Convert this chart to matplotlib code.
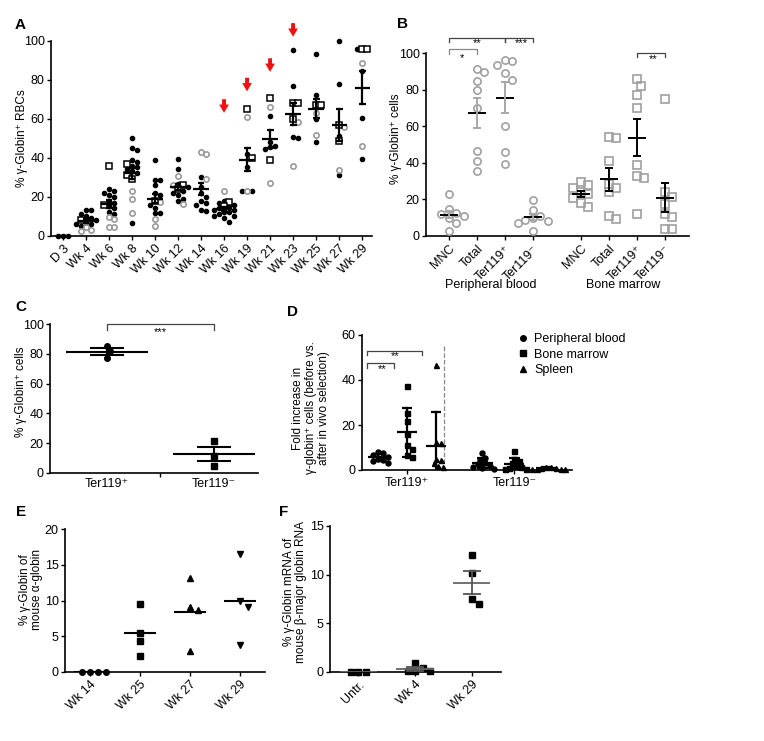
import matplotlib
matplotlib.use('Agg')
import matplotlib.pyplot as plt
from matplotlib.lines import Line2D
import numpy as np

plt.rcParams['font.family'] = ['Liberation Sans', 'DejaVu Sans']
plt.rcParams['axes.linewidth'] = 1.2
plt.rcParams['xtick.major.width'] = 1.0
plt.rcParams['ytick.major.width'] = 1.0
plt.rcParams['xtick.major.size'] = 3
plt.rcParams['ytick.major.size'] = 3
plt.rcParams['xtick.major.pad'] = 2
plt.rcParams['ytick.major.pad'] = 1.5
plt.rcParams['xtick.labelsize'] = 9
plt.rcParams['ytick.labelsize'] = 9

W, H = 764, 741

# ---------------- data ----------------
# A: % gamma-globin+ RBCs over time (black dots, gray circles, open squares)
a_labels = ['D 3', 'Wk 4', 'Wk 6', 'Wk 8', 'Wk 10', 'Wk 12', 'Wk 14',
            'Wk 16', 'Wk 19', 'Wk 21', 'Wk 23', 'Wk 25', 'Wk 27', 'Wk 29']
a_black = [
    [0, 0, 0],
    [13, 13, 11, 10, 9, 8, 7, 6, 6, 5],
    [24, 23, 22, 21, 20, 18, 17, 15, 14, 12, 11],
    [50, 45, 44, 39, 38, 36, 35, 34, 33, 32, 6.5],
    [39, 28.5, 28.5, 26, 22, 21, 16, 14, 11.5, 11.5],
    [39.5, 34, 26.5, 25, 23, 22, 21, 19, 18],
    [30, 25, 22, 20, 18, 17, 16, 13, 12.5],
    [18, 17, 16, 15, 14, 13, 13, 12, 12, 11, 10, 10, 9, 7],
    [42, 35, 23, 23],
    [61.5, 48, 46, 45.5, 44.5],
    [95, 77, 50.5, 50],
    [93, 72, 60, 48],
    [100, 78, 51, 31],
    [96, 84.5, 60.5, 39.5],
]
a_gray = [
    [],
    [4.5, 3, 2.5],
    [9.5, 8.5, 4.5, 4.5],
    [23, 19, 11.5],
    [17.5, 8.5, 5],
    [30.5, 26, 16.5],
    [43, 42, 29],
    [23],
    [61, 23],
    [66, 27],
    [58.5, 35.5],
    [63, 51.5],
    [55.5, 33.5],
    [88.5, 46],
]
a_square = [
    [],
    [8],
    [36, 16],
    [37, 31, 29],
    [18],
    [26, 24],
    [],
    [17.5, 15],
    [65, 40],
    [70.5, 39],
    [68, 68, 60],
    [67, 67],
    [57, 48.5],
    [96, 96],
]
arrow_labels = ['Wk 16', 'Wk 19', 'Wk 21', 'Wk 23']
arrow_tips = [63, 74, 84, 102]

# B: peripheral blood (circles) and bone marrow (squares)
b_labels = ['MNC', 'Total', 'Ter119⁺', 'Ter119⁻']
b_pb = [
    [23, 15, 12.5, 12, 11, 10, 7, 3],
    [91.5, 89.5, 85, 80, 70, 46.5, 41, 35.5],
    [96.5, 96, 93.5, 89, 85.5, 60, 46, 39.5],
    [19.5, 14.5, 11, 10, 9, 8, 7, 3],
]
b_bm = [
    [29.5, 28, 26, 24, 23, 21, 18, 16],
    [54, 53.5, 41, 28.5, 26, 24, 11, 9.5],
    [86, 82, 77, 70, 39, 33, 32, 12],
    [75, 24, 21.5, 17.5, 12, 10.5, 4, 4],
]

# C
c_labels = ['Ter119⁺', 'Ter119⁻']
c_pos = [85.5, 82, 77]
c_neg = [21.5, 11.5, 4.5]

# D: fold increase, mean +/- SD
d_groups = ['Peripheral blood', 'Bone marrow', 'Spleen']
d_markers = ['o', 's', '^']
d_labels = ['Ter119⁺', 'Ter119⁻']
d_pos = [
    [8, 7.5, 6.5, 6, 5, 4.5, 4, 3],
    [37.5, 25.5, 22, 16, 11, 9.5, 6.5, 6],
    [46.5, 12.5, 12, 5, 4.5, 3, 2, 1.5],
]
d_neg = [
    [7.5, 5.5, 4.5, 3, 2.5, 2, 1.5, 1, 0.5],
    [8.5, 5, 4, 3, 2, 1.5, 1, 0.5, 0.5],
    [1.5, 1.2, 1, 0.8, 0.6, 0.5, 0.5, 0.3],
]

# E
e_labels = ['Wk 14', 'Wk 25', 'Wk 27', 'Wk 29']
e_markers = ['o', 's', '^', 'v']
e_vals = [
    [0, 0, 0, 0],
    [9.5, 5.5, 4.3, 2.2],
    [13.1, 9.1, 8.7, 2.9],
    [16.6, 10, 9.1, 3.8],
]

# F
f_labels = ['Untr.', 'Wk 4', 'Wk 29']
f_vals = [
    [0, 0, 0],
    [0.9, 0.4, 0.05, 0.05, 0.05],
    [12, 10.2, 7.5, 7],
]

# ---------------- helpers ----------------
fig = plt.figure(figsize=(W / 100, H / 100), dpi=100)


def add_ax(l, r, t, b, xlim, ylim):
    ax = fig.add_axes([l / W, 1 - b / H, (r - l) / W, (b - t) / H])
    ax.set_xlim(*xlim)
    ax.set_ylim(*ylim)
    ax.spines[['top', 'right']].set_visible(False)
    return ax


def swarm(ax, vals, d):
    # horizontal offsets so markers of diameter d (px) do not overlap
    sx, sy = ax.transData.transform((1, 1)) - ax.transData.transform((0, 0))
    steps = [0] + [s * k * d / 2 for k in range(1, 60) for s in (1, -1)]
    placed, offs = [], []
    for v in vals:
        for c in steps:
            if all((c - p) ** 2 + ((v - q) * sy) ** 2 >= d * d for p, q in placed):
                break
        placed.append((c, v))
        offs.append(c / sx)
    return np.array(offs)


def mean_bar(ax, x, vals, half, cap, mcol='k', ecol='k', lw=1.5, sd=False, err=True):
    m = np.mean(vals)
    ax.plot([x - half, x + half], [m, m], color=mcol, lw=lw, zorder=4,
            solid_capstyle='butt')
    if not err:
        return
    e = np.std(vals, ddof=1)
    if not sd:
        e = e / np.sqrt(len(vals))
    ax.plot([x, x], [m - e, m + e], color=ecol, lw=lw, zorder=4)
    for yy in (m - e, m + e):
        ax.plot([x - cap, x + cap], [yy, yy], color=ecol, lw=lw, zorder=4,
                solid_capstyle='butt')


def bracket(ax, x0, x1, y, leg, text, tx, ty, color='#444444'):
    ax.plot([x0, x0, x1, x1], [y - leg, y, y, y - leg], color=color, lw=0.9,
            clip_on=False)
    ax.text(tx, ty, text, ha='center', va='center', fontsize=8, clip_on=False)


def ftext(x, y, s, **kw):
    fig.text(x / W, 1 - y / H, s, **kw)


# ---------------- panel A ----------------
axA = add_ax(51, 372, 40.7, 235.7, (-0.52, 13.43), (0, 100))
for i in range(len(a_labels)):
    vals = a_black[i] + a_gray[i] + a_square[i]
    kind = [0] * len(a_black[i]) + [1] * len(a_gray[i]) + [2] * len(a_square[i])
    order = np.argsort(vals, kind='stable')[::-1]
    v = np.array(vals, float)[order]
    k = np.array(kind)[order]
    x = i + swarm(axA, v, 4.8)
    axA.plot(x[k == 0], v[k == 0], 'o', color='k', ms=3, ls='none',
             clip_on=False, zorder=3)
    axA.plot(x[k == 1], v[k == 1], 'o', mfc='none', mec='#9a9a9a', mew=1.2,
             ms=3.8, ls='none', clip_on=False, zorder=3)
    axA.plot(x[k == 2], v[k == 2], 's', mfc='white', mec='k', mew=1.1,
             ms=4, ls='none', clip_on=False, zorder=3)
    mean_bar(axA, i, vals, 0.33, 0.15, lw=1.6)

for lab, tip in zip(arrow_labels, arrow_tips):
    xi = a_labels.index(lab)
    axA.annotate('', xy=(xi, tip), xytext=(xi, tip + 7), annotation_clip=False,
                 arrowprops=dict(arrowstyle='simple,head_length=0.6,head_width=0.7,tail_width=0.28',
                                 color='#ee1111', lw=0, shrinkA=0, shrinkB=0))

axA.set_xticks(range(len(a_labels)))
axA.set_xticklabels(a_labels, rotation=45, ha='right', rotation_mode='anchor')
axA.set_yticks(range(0, 101, 20))
ftext(22, 138, '% γ-Globin⁺ RBCs', rotation=90, ha='center', va='center', fontsize=8.5)

# ---------------- panel B ----------------
b_pos = [0, 1, 2, 3, 4.71, 5.71, 6.71, 7.71]
axB = add_ax(426, 689, 53.3, 236, (-0.82, 8.57), (0, 100))
for j in range(4):
    vals = sorted(b_pb[j], reverse=True)
    x = b_pos[j] + swarm(axB, vals, 7.5)
    axB.plot(x, vals, 'o', mfc='none', mec='#a0a0a0', mew=1.2, ms=5.2,
             ls='none', clip_on=False, zorder=3)
    mean_bar(axB, b_pos[j], vals, 0.33, 0.15, mcol='k', ecol='#a8a8a8', lw=1.4)
for j in range(4):
    vals = sorted(b_bm[j], reverse=True)
    x = b_pos[j + 4] + swarm(axB, vals, 7.5)
    axB.plot(x, vals, 's', mfc='none', mec='#a0a0a0', mew=1.2, ms=5.2,
             ls='none', clip_on=False, zorder=3)
    mean_bar(axB, b_pos[j + 4], vals, 0.33, 0.15, lw=1.4)

axB.set_xticks(b_pos)
axB.set_xticklabels(b_labels * 2, rotation=45, ha='right', rotation_mode='anchor')
axB.set_yticks(range(0, 101, 20))
bracket(axB, 0, 1, 102.2, 2.7, '*', 0.45, 97.5, color='#888888')
bracket(axB, 0, 2, 108.4, 2.4, '**', 1.0, 105.4)
bracket(axB, 2, 3, 108.4, 2.4, '***', 2.6, 105.4)
bracket(axB, 6.71, 7.71, 100.2, 2.4, '**', 7.3, 96.6)
ftext(396, 139, '% γ-Globin⁺ cells', rotation=90, ha='center', va='center', fontsize=8.5)
ftext(491, 285, 'Peripheral blood', ha='center', va='center', fontsize=9)
ftext(623, 285, 'Bone marrow', ha='center', va='center', fontsize=9)

# ---------------- panel C ----------------
axC = add_ax(50, 258, 324.3, 472.7, (-0.53, 1.41), (0, 100))
for j, (vals, mk) in enumerate([(c_pos, 'o'), (c_neg, 's')]):
    x = j + swarm(axC, vals, 5.5)
    axC.plot(x, vals, mk, color='k', ms=4, ls='none', clip_on=False, zorder=3)
    mean_bar(axC, j, vals, 0.38, 0.16, lw=1.5)
axC.set_xticks([0, 1])
axC.set_xticklabels(c_labels)
axC.tick_params(axis='x', length=0, pad=4)
axC.set_xticks([0.5], minor=True)
axC.tick_params(axis='x', which='minor', length=3, width=1.0)
axC.set_yticks(range(0, 101, 20))
bracket(axC, 0, 1, 100, 4, '***', 0.5, 95)
ftext(21, 392, '% γ-Globin⁺ cells', rotation=90, ha='center', va='center', fontsize=8.5)

# ---------------- panel D ----------------
d_x_pos = [0, 1, 2]
d_x_neg = [3.6, 4.7, 5.8]
d_sep = 2.28
axD = add_ax(362, 572, 335, 470, (-0.55, 6.69), (0, 60))
for vals_set, xs in ((d_pos, d_x_pos), (d_neg, d_x_neg)):
    for g in range(3):
        vals = sorted(vals_set[g], reverse=True)
        x = xs[g] + swarm(axD, vals, 4.8)
        axD.plot(x, vals, d_markers[g], color='k', ms=3.6, ls='none',
                 clip_on=False, zorder=3)
        mean_bar(axD, xs[g], vals, 0.35, 0.18, lw=1.6, sd=True)
axD.plot([d_sep, d_sep], [0, 55], ls='--', color='#888888', lw=0.9)
axD.set_xticks([d_x_pos[1], d_x_neg[1]])
axD.set_xticklabels(d_labels)
axD.set_yticks(range(0, 61, 20))
bracket(axD, -0.38, 1.52, 53, 2, '**', 0.6, 50.6)
bracket(axD, -0.38, 0.55, 47.4, 2, '**', 0.15, 44.8)
handles = [Line2D([], [], marker=m, color='k', ls='none', ms=4) for m in d_markers]
fig.legend(handles, d_groups, loc='upper left', bbox_to_anchor=(518 / W, 1 - 333 / H),
           frameon=False, fontsize=9, handlelength=0.8, handletextpad=0.5,
           labelspacing=0.3, borderpad=0, borderaxespad=0)
ftext(311, 408, 'Fold increase in\nγ-globin⁺ cells (before vs.\nafter in vivo selection)',
      rotation=90, ha='center', va='center', fontsize=8.5, linespacing=1.1)

# ---------------- panel E ----------------
axE = add_ax(65, 265, 529.3, 671.7, (-0.5, 3.5), (0, 20))
for j, vals in enumerate(e_vals):
    vals = sorted(vals, reverse=True)
    x = j + swarm(axE, vals, 8)
    axE.plot(x, vals, e_markers[j], color='k', ms=4, ls='none',
             clip_on=False, zorder=3)
    mean_bar(axE, j, vals, 0.32, 0, lw=1.5, err=False)
axE.set_xticks(range(len(e_labels)))
axE.set_xticklabels(e_labels, rotation=45, ha='right', rotation_mode='anchor')
axE.set_yticks(range(0, 21, 5))
ftext(31, 590, '% γ-Globin of\nmouse α-globin', rotation=90, ha='center', va='center',
      fontsize=8.5, linespacing=1.1)

# ---------------- panel F ----------------
axF = add_ax(330, 500.7, 526, 671.7, (-0.5, 2.51), (0, 15))
for j, vals in enumerate(f_vals):
    vals = sorted(vals, reverse=True)
    x = j + swarm(axF, vals, 7.5)
    axF.plot(x, vals, 's', color='k', ms=4.2, ls='none', clip_on=False, zorder=3)
    mean_bar(axF, j, vals, 0.33, 0.16, mcol='#666666', ecol='#555555', lw=1.3)
axF.set_xticks(range(len(f_labels)))
axF.set_xticklabels(f_labels, rotation=45, ha='right', rotation_mode='anchor')
axF.set_yticks(range(0, 16, 5))
ftext(295, 592, '% γ-Globin mRNA of\nmouse β-major globin RNA', rotation=90,
      ha='center', va='center', fontsize=8.5, linespacing=1.1)

# panel letters
for lab, (px, py) in zip('ABCDEF', [(20, 25), (403, 24), (21, 307), (292, 312),
                                   (21, 512), (284, 512)]):
    ftext(px, py, lab, fontsize=11, fontweight='bold', ha='center', va='center')

fig.savefig('out.png', dpi=100)
